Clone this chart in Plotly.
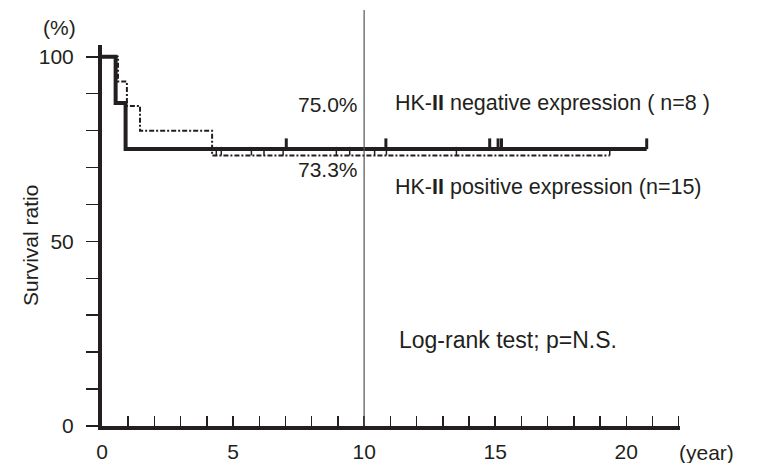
import numpy as np
import plotly.graph_objects as go

# ---- data ----
neg_step_t = [0.0, 0.52, 0.90, 20.78]
neg_step_s = [100.0, 87.5, 75.0, 75.0]
neg_censor_t = [7.03, 10.83, 14.79, 15.11, 15.24, 20.78]

pos_step_t = [0.0, 0.61, 0.95, 1.45, 4.20, 19.37]
pos_step_s = [100.0, 93.3, 86.7, 80.0, 73.3, 73.3]
pos_censor_t = [4.36, 4.55, 5.70, 6.18, 6.91, 8.94, 9.45, 10.40, 10.85, 13.52, 19.37]

x_tick_vals = [0, 5, 10, 15, 20]
y_tick_vals = [0, 50, 100]

INK = "#231f20"


def surv_at(times, step_t, step_s):
    idx = np.searchsorted(np.array(step_t), np.array(times), side="right") - 1
    return list(np.array(step_s)[idx])


fig = go.Figure()

# positive expression (dash-dot, thin)
fig.add_trace(go.Scatter(x=pos_step_t, y=pos_step_s, mode="lines", line_shape="hv",
                         line=dict(color=INK, width=2, dash="5px,2px,2px,2px"),
                         showlegend=False, hoverinfo="skip"))
fig.add_trace(go.Scatter(x=pos_censor_t, y=surv_at(pos_censor_t, pos_step_t, pos_step_s),
                         mode="markers", marker=dict(size=1, opacity=0),
                         error_y=dict(type="constant", value=2.3, valueminus=0, symmetric=False,
                                      width=0, thickness=1.5, color=INK),
                         showlegend=False, hoverinfo="skip"))

# negative expression (solid, thick)
fig.add_trace(go.Scatter(x=neg_step_t, y=neg_step_s, mode="lines", line_shape="hv",
                         line=dict(color=INK, width=4),
                         showlegend=False, hoverinfo="skip"))
fig.add_trace(go.Scatter(x=neg_censor_t, y=surv_at(neg_censor_t, neg_step_t, neg_step_s),
                         mode="markers", marker=dict(size=1, opacity=0),
                         error_y=dict(type="constant", value=2.9, valueminus=0, symmetric=False,
                                      width=0, thickness=3, color=INK),
                         showlegend=False, hoverinfo="skip"))

# 10-year reference line
fig.add_shape(type="line", xref="x", yref="paper", x0=10, x1=10, y0=0, y1=1.092,
              line=dict(color="#555555", width=1.2), layer="above")

FONT = "Liberation Sans, Arial, Helvetica, sans-serif"
ann_font = dict(family=FONT, size=21, color=INK)

annotations = [
    dict(x=8.63, y=87.0, xref="x", yref="y", text="75.0%", showarrow=False,
         xanchor="center", yanchor="middle", font=ann_font),
    dict(x=8.63, y=69.4, xref="x", yref="y", text="73.3%", showarrow=False,
         xanchor="center", yanchor="middle", font=ann_font),
    dict(x=11.1, y=87.5, xref="x", yref="y", text="HK-<b>II</b> negative expression ( n=8 )",
         showarrow=False, xanchor="left", yanchor="middle", font=dict(family=FONT, size=21.5, color=INK)),
    dict(x=11.1, y=64.8, xref="x", yref="y", text="HK-<b>II</b> positive expression (n=15)",
         showarrow=False, xanchor="left", yanchor="middle", font=dict(family=FONT, size=21.5, color=INK)),
    dict(x=11.26, y=23.3, xref="x", yref="y", text="Log-rank test; p=N.S.",
         showarrow=False, xanchor="left", yanchor="middle", font=dict(family=FONT, size=23, color=INK)),
    dict(x=1.045, y=-0.07, xref="paper", yref="paper", text="(year)",
         showarrow=False, xanchor="center", yanchor="middle", font=ann_font),
    dict(x=-0.0727, y=1.047, xref="paper", yref="paper", text="(%)",
         showarrow=False, xanchor="center", yanchor="middle", font=ann_font),
    dict(x=-0.1246, y=0.475, xref="paper", yref="paper", text="Survival ratio",
         showarrow=False, xanchor="center", yanchor="middle", textangle=-90, font=ann_font),
]

fig.update_layout(
    width=759, height=463,
    margin=dict(l=102, r=79, t=45, b=37, autoexpand=False),
    paper_bgcolor="white", plot_bgcolor="white",
    font=dict(family=FONT, size=21, color=INK),
    annotations=annotations,
    xaxis=dict(range=[0, 22.05], showline=True, linewidth=4, linecolor=INK,
               showgrid=False, zeroline=False, automargin=False,
               tickmode="array", tickvals=x_tick_vals, ticktext=[str(v) for v in x_tick_vals],
               ticks="inside", ticklen=10, tickwidth=1.5, tickcolor=INK,
               minor=dict(dtick=1, ticks="inside", ticklen=10, tickwidth=1.5, tickcolor=INK,
                          showgrid=False),
               ticklabelstandoff=4,
               tickfont=dict(family=FONT, size=21, color=INK)),
    yaxis=dict(range=[0, 103.2], showline=True, linewidth=4, linecolor=INK,
               showgrid=False, zeroline=False, automargin=False,
               tickmode="array", tickvals=y_tick_vals, ticktext=[str(v) for v in y_tick_vals],
               ticks="outside", ticklen=12, tickwidth=1.5, tickcolor=INK,
               minor=dict(dtick=10, ticks="outside", ticklen=12, tickwidth=1.5, tickcolor=INK,
                          showgrid=False),
               ticklabelstandoff=8,
               tickfont=dict(family=FONT, size=21, color=INK)),
)

fig.write_html("out.html",
               config={"displayModeBar": False, "staticPlot": True},
               post_script="document.body.style.margin='0';document.body.style.overflow='hidden';")
